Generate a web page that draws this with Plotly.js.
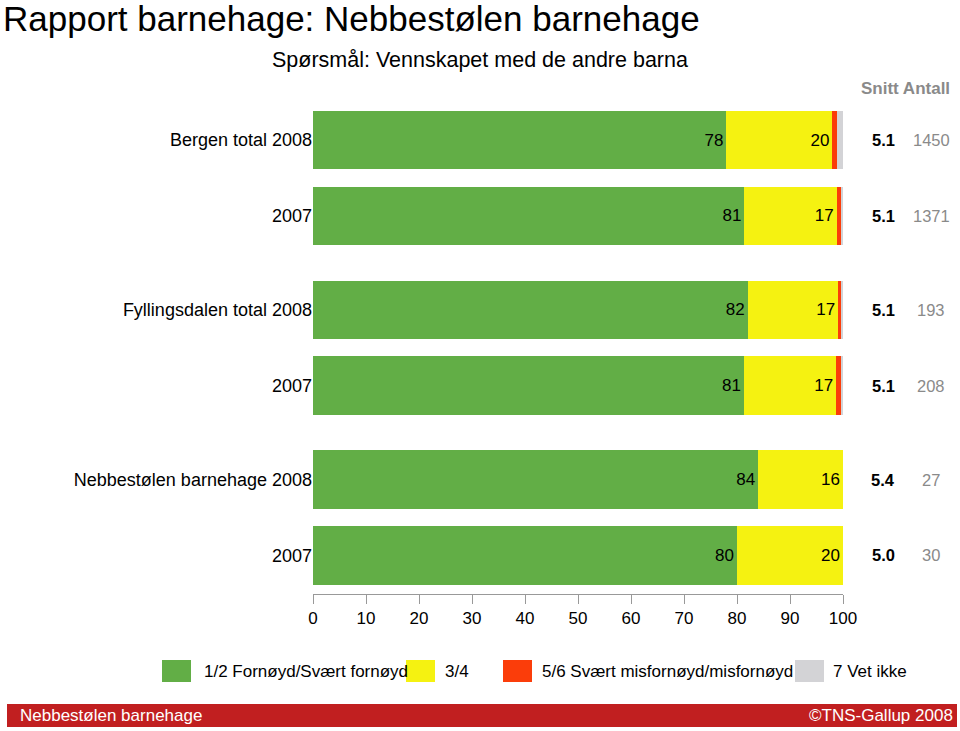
<!DOCTYPE html>
<html>
<head>
<meta charset="utf-8">
<script src="https://cdn.plot.ly/plotly-3.0.1.min.js"></script>
<style>html,body{margin:0;padding:0;background:#fff;}#chart{width:960px;height:731px;}</style>
</head>
<body>
<div id="chart"></div>
<script>
// ---- Data ----
const groups = ["Bergen total", "Fyllingsdalen total", "Nebbestølen barnehage"];
const years = ["2008", "2007"];
const rowLabels = ["Bergen total&nbsp;2008", "2007", "Fyllingsdalen total&nbsp;2008", "2007", "Nebbestølen barnehage&nbsp;2008", "2007"];
const seriesNames = ["1/2 Fornøyd/Svært fornøyd", "3/4", "5/6 Svært misfornøyd/misfornøyd", "7 Vet ikke"];
const satisfied = [78, 81.4, 82, 81.3, 84, 80];
const middle = [20, 17.4, 17.1, 17.4, 16, 20];
const dissatisfied = [0.8, 0.9, 0.6, 0.95, 0, 0];
const dontKnow = [1.2, 0.3, 0.3, 0.35, 0, 0];
const labelSatisfied = ["78", "81", "82", "81", "84", "80"];
const labelMiddle = ["20", "17", "17", "17", "16", "20"];
const snitt = ["5.1", "5.1", "5.1", "5.1", "5.4", "5.0"];
const antall = ["1450", "1371", "193", "208", "27", "30"];
const xTicks = [0, 10, 20, 30, 40, 50, 60, 70, 80, 90, 100];

// ---- Styling ----
const colors = ["#62AE46", "#F5F211", "#FB3D0A", "#D3D3D6"];
const FONT = "Liberation Sans, Arial, Helvetica, sans-serif";
const groupPitch = 2.24;
const yPos = rowLabels.map((_, i) => Math.floor(i / 2) * groupPitch + (i % 2));

const seriesValues = [satisfied, middle, dissatisfied, dontKnow];
const seriesText = [labelSatisfied, labelMiddle, null, null];

const traces = seriesValues.map((vals, s) => ({
  type: "bar",
  orientation: "h",
  name: seriesNames[s],
  x: vals,
  y: yPos,
  width: 0.77,
  marker: {color: colors[s], line: {width: 0}},
  text: seriesText[s] || vals.map(() => ""),
  textposition: seriesText[s] ? "inside" : "none",
  insidetextanchor: "end",
  constraintext: "none",
  textfont: {family: FONT, size: 17, color: "#000"},
  hoverinfo: "skip",
  showlegend: false
}));

const W = 960, H = 731;
const margin = {l: 313, r: 117, t: 100, b: 137};
const pw = W - margin.l - margin.r, ph = H - margin.t - margin.b;
const px2x = px => (px - margin.l) / pw;
const py2y = py => (H - margin.b - py) / ph;

const annotations = [];
yPos.forEach((y, i) => {
  annotations.push({xref: "paper", yref: "y", x: px2x(883), y: y, text: "<b>" + snitt[i] + "</b>",
    showarrow: false, font: {family: FONT, size: 16.5, color: "#000"}, xanchor: "center"});
  annotations.push({xref: "paper", yref: "y", x: px2x(931), y: y, text: antall[i],
    showarrow: false, font: {family: FONT, size: 16.5, color: "#8a8a8a"}, xanchor: "center"});
});
annotations.push({xref: "paper", yref: "paper", x: px2x(859), y: py2y(88), yanchor: "middle", xanchor: "left",
  text: "<b>Snitt Antall</b>", showarrow: false, font: {family: FONT, size: 17, color: "#8a8a8a"}});

annotations.push({xref: "paper", yref: "paper", x: px2x(1), y: py2y(19), xanchor: "left", yanchor: "middle",
  text: "Rapport barnehage: Nebbestølen barnehage", showarrow: false, font: {family: FONT, size: 35, color: "#000"}});
annotations.push({xref: "paper", yref: "paper", x: px2x(270), y: py2y(60), xanchor: "left", yanchor: "middle",
  text: "Spørsmål: Vennskapet med de andre barna", showarrow: false, font: {family: FONT, size: 21.5, color: "#000"}});

// Legend (custom)
const shapes = [];
const legendBoxes = [162, 406, 503, 795];
const legendText = [202, 443, 540, 831];
seriesNames.forEach((n, s) => {
  shapes.push({type: "rect", xref: "paper", yref: "paper", x0: px2x(legendBoxes[s]), x1: px2x(legendBoxes[s] + 29),
    y0: py2y(682), y1: py2y(660), fillcolor: colors[s], line: {width: 0}, layer: "above"});
  annotations.push({xref: "paper", yref: "paper", x: px2x(legendText[s]), y: py2y(671), xanchor: "left", yanchor: "middle",
    text: n, showarrow: false, font: {family: FONT, size: 17, color: "#000"}});
});
// Footer
shapes.push({type: "rect", xref: "paper", yref: "paper", x0: px2x(7), x1: px2x(957), y0: py2y(727), y1: py2y(704),
  fillcolor: "#C11F20", line: {width: 0}});
annotations.push({xref: "paper", yref: "paper", x: px2x(18), y: py2y(715.5), xanchor: "left", yanchor: "middle",
  text: "Nebbestølen barnehage", showarrow: false, font: {family: FONT, size: 17, color: "#fff"}});
annotations.push({xref: "paper", yref: "paper", x: px2x(955), y: py2y(715.5), xanchor: "right", yanchor: "middle",
  text: "©TNS-Gallup 2008", showarrow: false, font: {family: FONT, size: 17, color: "#fff"}});

const layout = {
  width: W, height: H,
  margin: margin,
  paper_bgcolor: "#fff", plot_bgcolor: "#fff",
  barmode: "stack",
  showlegend: false,
  xaxis: {range: [0, 100], tickvals: xTicks, ticktext: xTicks.map(String), showgrid: false, zeroline: false,
    showline: true, linecolor: "#999", linewidth: 1, ticks: "outside", ticklen: 9, tickcolor: "#999",
    tickfont: {family: FONT, size: 17, color: "#000"}, fixedrange: true},
  yaxis: {range: [yPos[yPos.length - 1] + 0.51, -0.53], tickvals: yPos, ticktext: rowLabels, showgrid: false,
    zeroline: false, showline: false, ticks: "", ticklen: 0, tickfont: {family: FONT, size: 18, color: "#000"}, fixedrange: true},
  annotations: annotations,
  shapes: shapes,
  font: {family: FONT}
};

Plotly.newPlot("chart", traces, layout, {displayModeBar: false, staticPlot: true});
</script>
</body>
</html>
